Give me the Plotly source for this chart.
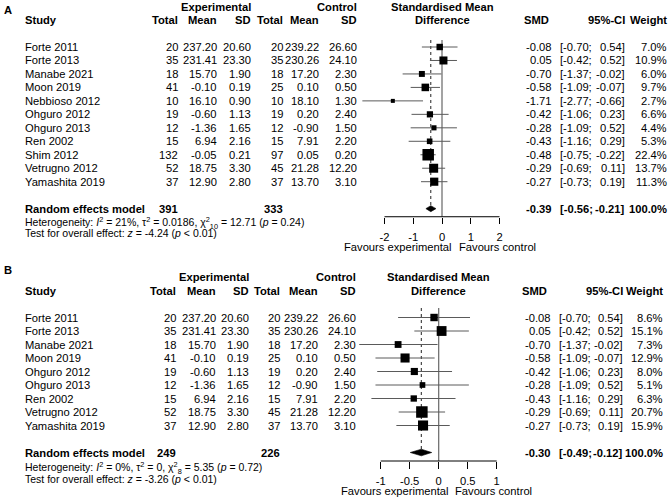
import math
import plotly.graph_objects as go

W, H = 669, 502
FONT = "Liberation Sans, Arial, Helvetica, sans-serif"

# ------------------------- Panel A data -------------------------
a_study = ["Forte 2011", "Forte 2013", "Manabe 2021", "Moon 2019", "Nebbioso 2012",
           "Ohguro 2012", "Ohguro 2013", "Ren 2002", "Shim 2012", "Vetrugno 2012",
           "Yamashita 2019"]
a_exp_n = [20, 35, 18, 41, 10, 19, 12, 15, 132, 52, 37]
a_exp_mean = [237.20, 231.41, 15.70, -0.10, 16.10, -0.60, -1.36, 6.94, -0.05, 18.75, 12.90]
a_exp_sd = [20.60, 23.30, 1.90, 0.19, 0.90, 1.13, 1.65, 2.16, 0.21, 3.30, 2.80]
a_ctl_n = [20, 35, 18, 25, 10, 19, 12, 15, 97, 45, 37]
a_ctl_mean = [239.22, 230.26, 17.20, 0.10, 18.10, 0.20, -0.90, 7.91, 0.05, 21.28, 13.70]
a_ctl_sd = [26.60, 24.10, 2.30, 0.50, 1.30, 2.40, 1.50, 2.20, 0.20, 12.20, 3.10]
a_smd = [-0.08, 0.05, -0.70, -0.58, -1.71, -0.42, -0.28, -0.43, -0.48, -0.29, -0.27]
a_lo = [-0.70, -0.42, -1.37, -1.09, -2.77, -1.06, -1.09, -1.16, -0.75, -0.69, -0.73]
a_hi = [0.54, 0.52, -0.02, -0.07, -0.66, 0.23, 0.52, 0.29, -0.22, 0.11, 0.19]
a_weight = [7.0, 10.9, 6.0, 9.7, 2.7, 6.6, 4.4, 5.3, 22.4, 13.7, 11.3]
a_pooled = [-0.39, -0.56, -0.21]
a_totals = [391, 333]
a_ticks = [-2, -1, 0, 1, 2]
a_ticklabels = ["-2", "-1", "0", "1", "2"]
a_het = ["21%", "0.0186", "10", "12.71", "0.24"]
a_test = ["-4.24", "< 0.01"]

# ------------------------- Panel B data -------------------------
b_study = ["Forte 2011", "Forte 2013", "Manabe 2021", "Moon 2019", "Ohguro 2012",
           "Ohguro 2013", "Ren 2002", "Vetrugno 2012", "Yamashita 2019"]
b_exp_n = [20, 35, 18, 41, 19, 12, 15, 52, 37]
b_exp_mean = [237.20, 231.41, 15.70, -0.10, -0.60, -1.36, 6.94, 18.75, 12.90]
b_exp_sd = [20.60, 23.30, 1.90, 0.19, 1.13, 1.65, 2.16, 3.30, 2.80]
b_ctl_n = [20, 35, 18, 25, 19, 12, 15, 45, 37]
b_ctl_mean = [239.22, 230.26, 17.20, 0.10, 0.20, -0.90, 7.91, 21.28, 13.70]
b_ctl_sd = [26.60, 24.10, 2.30, 0.50, 2.40, 1.50, 2.20, 12.20, 3.10]
b_smd = [-0.08, 0.05, -0.70, -0.58, -0.42, -0.28, -0.43, -0.29, -0.27]
b_lo = [-0.70, -0.42, -1.37, -1.09, -1.06, -1.09, -1.16, -0.69, -0.73]
b_hi = [0.54, 0.52, -0.02, -0.07, 0.23, 0.52, 0.29, 0.11, 0.19]
b_weight = [8.6, 15.1, 7.3, 12.9, 8.0, 5.1, 6.3, 20.7, 15.9]
b_pooled = [-0.30, -0.49, -0.12]
b_totals = [249, 226]
b_ticks = [-1, -0.5, 0, 0.5, 1]
b_ticklabels = ["-1", "-0.5", "0", "0.5", "1"]
b_het = ["0%", "0", "8", "5.35", "0.72"]
b_test = ["-3.26", "< 0.01"]

# ------------------------- layout settings -------------------------
LAYOUT_A = dict(letter="A", letter_y=9.5, row0=47.0, step=13.47, zero=442.0, unit=28.75,
                xr=(-3.2, 2.6), line_top=40.0, dia_h=3.0, axis_gap=8.1,
                het_gap=14.0, test_gap=24.0,
                cols=dict(study=25, en=177.7, em=217.3, esd=250.7, cn=282.7, cm=319.3,
                          csd=356.7, smd=551.7, smdh=549.0, cil=560.0, cir=625.0, w=667.3))
LAYOUT_B = dict(letter="B", letter_y=270.0, row0=317.5, step=13.5, zero=438.7, unit=58.0,
                xr=(-1.6, 1.6), line_top=308.0, dia_h=3.3, axis_gap=8.5,
                het_gap=15.0, test_gap=26.0,
                cols=dict(study=25, en=176.0, em=215.7, esd=249.3, cn=280.0, cm=318.3,
                          csd=356.0, smd=551.0, smdh=547.0, cil=559.3, cir=623.3, w=663.3))

FS = 11.2
FS_HET = 10.5
SQ_MAX = 11.5

fig = go.Figure()
annotations = []
axes = {}


def text(t, x, y, anchor="right", size=FS, bold=False):
    if bold:
        t = "<b>" + t + "</b>"
    annotations.append(dict(text=t, x=x / W, xref="paper", y=y, yref="y",
                            xanchor=anchor, yanchor="middle", showarrow=False,
                            borderpad=0, borderwidth=0,
                            font=dict(family=FONT, size=size, color="black")))


def panel(L, axis_id, study, en, em, esd, cn, cm, csd, smd, lo, hi, wt, pooled, totals,
          ticks, ticklabels, het, test):
    c = L["cols"]
    rows = [L["row0"] + i * L["step"] for i in range(len(study))]
    h1 = L["row0"] - 3 * L["step"]
    h2 = L["row0"] - 2 * L["step"]
    ysum = rows[-1] + 2 * L["step"]
    yaxis_line = ysum + L["axis_gap"]
    xname = "x" if axis_id == 1 else "x%d" % axis_id

    # headers
    text(L["letter"], 4, L["letter_y"], "left", FS, True)
    text("Experimental", c["esd"], h1, "right", FS, True)
    text("Control", c["csd"], h1, "right", FS, True)
    text("Standardised Mean", L["zero"], h1, "center", FS, True)
    text("Study", c["study"], h2, "left", FS, True)
    for key, lab in [("en", "Total"), ("em", "Mean"), ("esd", "SD"),
                     ("cn", "Total"), ("cm", "Mean"), ("csd", "SD")]:
        text(lab, c[key], h2, "right", FS, True)
    text("Difference", L["zero"], h2, "center", FS, True)
    text("SMD", c["smdh"], h2, "right", FS, True)
    text("95%-CI", c["cir"], h2, "right", FS, True)
    text("Weight", c["w"], h2, "right", FS, True)

    # study rows
    for i, y in enumerate(rows):
        text(study[i], c["study"], y, "left")
        text("%d" % en[i], c["en"], y)
        text("%.2f" % em[i], c["em"], y)
        text("%.2f" % esd[i], c["esd"], y)
        text("%d" % cn[i], c["cn"], y)
        text("%.2f" % cm[i], c["cm"], y)
        text("%.2f" % csd[i], c["csd"], y)
        text("%.2f" % smd[i], c["smd"], y)
        text("[%.2f;" % lo[i], c["cil"], y, "left")
        text("%.2f]" % hi[i], c["cir"], y)
        text("%.1f%%" % wt[i], c["w"], y)

    # summary rows
    text("Random effects model", c["study"], ysum, "left", FS, True)
    text("%d" % totals[0], c["en"], ysum, "right", FS, True)
    text("%d" % totals[1], c["cn"], ysum, "right", FS, True)
    text("%.2f" % pooled[0], c["smd"], ysum, "right", FS, True)
    text("[%.2f;" % pooled[1], c["cil"], ysum, "left", FS, True)
    text("%.2f]" % pooled[2], c["cir"], ysum, "right", FS, True)
    text("100.0%", c["w"], ysum, "right", FS, True)
    het_txt = ("Heterogeneity: <i>I</i><sup>2</sup> = %s, τ<sup>2</sup> = %s, "
               "χ<sup>2</sup><sub>%s</sub> = %s (<i>p</i> = %s)" % tuple(het))
    text(het_txt, c["study"], ysum + L["het_gap"], "left", FS_HET)
    test_txt = "Test for overall effect: <i>z</i> = %s (<i>p</i> %s)" % tuple(test)
    text(test_txt, c["study"], ysum + L["test_gap"], "left", FS_HET)

    # forest graphics
    zx, zy = [0, 0], [L["line_top"], yaxis_line]
    fig.add_trace(go.Scatter(x=zx, y=zy, mode="lines", xaxis=xname, yaxis="y",
                             line=dict(color="#666666", width=1.2), hoverinfo="skip"))
    fig.add_trace(go.Scatter(x=[pooled[0], pooled[0]], y=[L["line_top"], ysum - L["dia_h"]],
                             mode="lines", xaxis=xname, yaxis="y",
                             line=dict(color="#222222", width=1, dash="dot"), hoverinfo="skip"))
    cx, cy = [], []
    for i, y in enumerate(rows):
        cx += [lo[i], hi[i], None]
        cy += [y, y, None]
    fig.add_trace(go.Scatter(x=cx, y=cy, mode="lines", xaxis=xname, yaxis="y",
                             line=dict(color="#5a5a5a", width=1), hoverinfo="skip"))
    wmax = max(wt)
    fig.add_trace(go.Scatter(x=smd, y=rows, mode="markers", xaxis=xname, yaxis="y",
                             marker=dict(symbol="square", color="black", opacity=1,
                                         size=[SQ_MAX * math.sqrt(w / wmax) for w in wt],
                                         line=dict(width=0)),
                             cliponaxis=False, hoverinfo="skip"))
    dh = L["dia_h"]
    fig.add_trace(go.Scatter(x=[pooled[1], pooled[0], pooled[2], pooled[0], pooled[1]],
                             y=[ysum, ysum - dh, ysum, ysum + dh, ysum],
                             mode="lines", fill="toself", fillcolor="black",
                             xaxis=xname, yaxis="y",
                             line=dict(color="black", width=0.6), hoverinfo="skip"))
    # axis line across tick range
    fig.add_trace(go.Scatter(x=[min(ticks), max(ticks)], y=[yaxis_line, yaxis_line],
                             mode="lines", xaxis=xname, yaxis="y",
                             line=dict(color="black", width=1), hoverinfo="skip"))
    # favours labels
    fav_y = yaxis_line + 30
    text("Favours experimental", L["zero"] + 10, fav_y, "right")
    text("Favours control", L["zero"] + 16.5, fav_y, "left")

    left_px = L["zero"] + L["xr"][0] * L["unit"]
    right_px = L["zero"] + L["xr"][1] * L["unit"]
    axes["xaxis" if axis_id == 1 else "xaxis%d" % axis_id] = dict(
        domain=[left_px / W, right_px / W], range=list(L["xr"]),
        anchor="free", position=1 - yaxis_line / H, side="bottom",
        tickmode="array", tickvals=ticks, ticktext=ticklabels,
        ticks="outside", ticklen=6.5, tickwidth=1, tickcolor="black",
        ticklabelstandoff=3,
        showline=False, showgrid=False, zeroline=False, fixedrange=True,
        tickfont=dict(family=FONT, size=FS, color="black"))


panel(LAYOUT_A, 1, a_study, a_exp_n, a_exp_mean, a_exp_sd, a_ctl_n, a_ctl_mean, a_ctl_sd,
      a_smd, a_lo, a_hi, a_weight, a_pooled, a_totals, a_ticks, a_ticklabels, a_het, a_test)
panel(LAYOUT_B, 2, b_study, b_exp_n, b_exp_mean, b_exp_sd, b_ctl_n, b_ctl_mean, b_ctl_sd,
      b_smd, b_lo, b_hi, b_weight, b_pooled, b_totals, b_ticks, b_ticklabels, b_het, b_test)

fig.update_layout(
    width=W, height=H, autosize=False,
    margin=dict(l=0, r=0, t=0, b=0, pad=0),
    paper_bgcolor="white", plot_bgcolor="rgba(0,0,0,0)",
    showlegend=False, hovermode=False,
    font=dict(family=FONT, size=FS, color="black"),
    yaxis=dict(range=[H, 0], domain=[0, 1], visible=False, fixedrange=True),
    annotations=annotations,
    **axes,
)

fig.write_html("out.html", post_script="document.body.style.margin='0';",
               config={"displayModeBar": False})
